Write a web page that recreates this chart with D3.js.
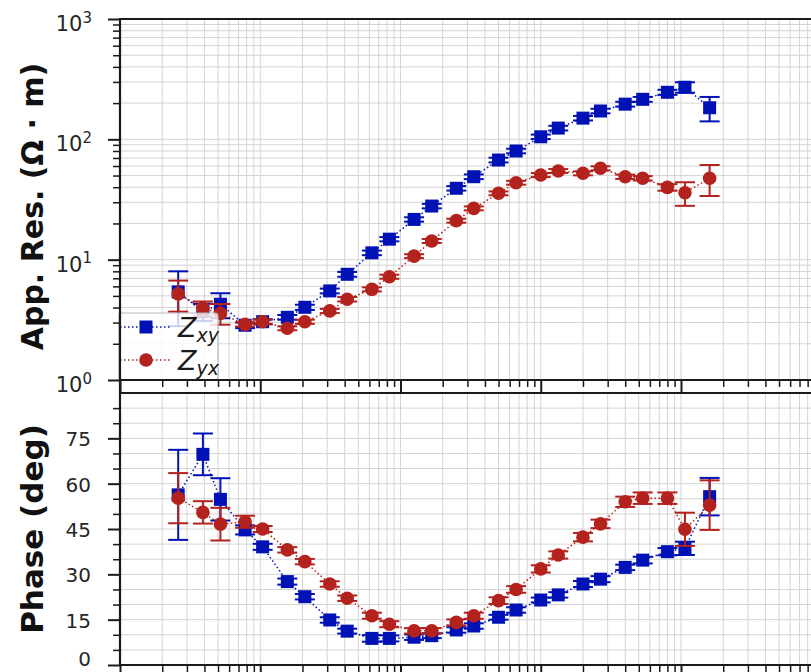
<!DOCTYPE html>
<html><head><meta charset="utf-8">
<script src="https://cdn.jsdelivr.net/npm/d3@7"></script>
<style>
body{margin:0;background:#fff;}
svg{display:block;font-family:"DejaVu Sans",sans-serif;}
</style>
</head><body>
<svg id="chart" width="811" height="672"></svg>
<script>
// ---------------- data ----------------
const periods = [0.0026, 0.0039, 0.0052, 0.0078, 0.0104, 0.0156, 0.0208, 0.0313, 0.0417, 0.0625, 0.0833, 0.125, 0.167,
                 0.25, 0.333, 0.5, 0.667, 1, 1.333, 2, 2.667, 4, 5.333, 8, 10.67, 16];
const rhoXY    = [5.4, 3.7, 4.26, 2.85, 3.05, 3.32, 4.02, 5.5, 7.56, 11.4, 14.8, 21.6, 27.9,
                  39.2, 48.9, 67.3, 80.0, 105, 124, 150, 172, 196, 215, 246, 271, 183];
const rhoXYErr = [2.6, 0.6, 1.0, 0.15, 0.15, 0.15, 0.2, 0.25, 0.35, 0.5, 0.6, 0.9, 1.2,
                  1.7, 2.2, 3.0, 3.5, 4.5, 5.5, 6.5, 7.5, 9, 10, 12, 27, 42];
const rhoYX    = [5.2, 3.94, 3.58, 2.9, 3.05, 2.69, 3.05, 3.75, 4.69, 5.67, 7.22, 10.7, 14.3,
                  21.1, 26.7, 35.6, 43.6, 50.5, 54.6, 52.2, 57.5, 48.9, 47.5, 39.9, 36.0, 47.5];
const rhoYXErr = [1.5, 0.55, 0.7, 0.12, 0.12, 0.1, 0.12, 0.15, 0.2, 0.22, 0.28, 0.4, 0.55,
                  0.8, 1.0, 1.3, 1.6, 1.9, 2.0, 2.0, 2.2, 2.0, 2.0, 2.5, 8.0, 13.7];
const phiXY    = [56.3, 69.7, 54.8, 44.7, 39.1, 27.6, 22.6, 14.9, 11.2, 8.8, 8.8, 9.2, 9.7,
                  11.6, 12.9, 15.8, 18.2, 21.5, 23.2, 26.8, 28.4, 32.3, 34.7, 37.5, 38.6, 55.7];
const phiXYErr = [14.9, 6.9, 7.0, 1.5, 1.0, 1.0, 0.9, 0.9, 0.8, 1.1, 1.0, 0.9, 0.8,
                  0.9, 0.9, 0.8, 0.9, 0.8, 0.9, 1.0, 1.0, 0.9, 1.1, 1.2, 2.2, 6.2];
const phiYX    = [55.2, 50.5, 46.6, 47.4, 45.0, 38.1, 34.2, 26.8, 22.1, 16.3, 13.5, 11.3, 11.3,
                  14.1, 16.3, 21.3, 25.0, 31.8, 36.4, 42.3, 46.7, 54.0, 55.2, 55.2, 44.9, 52.9];
const phiYXErr = [8.3, 3.7, 5.4, 2.0, 1.0, 0.9, 0.9, 0.9, 0.9, 1.0, 1.0, 0.9, 0.9,
                  1.0, 1.0, 1.1, 1.1, 1.2, 1.2, 1.4, 1.4, 1.7, 1.9, 1.9, 5.5, 8.2];
const seriesLabels = [["Z", "xy"], ["Z", "yx"]];
const resTickValues = [1, 10, 100, 1000];
const resTickExp = ["0", "1", "2", "3"];
const phaseTickValues = [0, 15, 30, 45, 60, 75];
const yLabels = ["App. Res. (Ω · m)", "Phase (deg)"];

// ---------------- styles ----------------
const BLUE = "#0012b5", RED = "#b3221d";
const GRID = "#d4d4d4", SPINE = "#1a1a1a";
const W = 811, H = 672;

const svg = d3.select("#chart");

const x = d3.scaleLog().domain([1e-3, 1e2]).range([120, 821.25]);
const yRes = d3.scaleLog().domain([1, 1000]).range([380, 19]);
const yPh = d3.scaleLinear().domain([0, 90]).range([665, 393]);

const xMajor = [1e-3, 1e-2, 1e-1, 1, 10, 100];
const xMinor = [];
[1e-3, 1e-2, 1e-1, 1, 10].forEach(d => { for (let k = 2; k <= 9; k++) xMinor.push(d * k); });
const resMinor = [];
[1, 10, 100].forEach(d => { for (let k = 2; k <= 9; k++) resMinor.push(d * k); });
const phMinor = d3.range(5, 90, 5).filter(v => v % 15 !== 0);

const panels = [
  {y: yRes, top: 19, bottom: 380, hTicks: resTickValues.concat(resMinor)},
  {y: yPh, top: 393, bottom: 665, hTicks: phaseTickValues.concat(phMinor)}
];

// grids
panels.forEach(p => {
  const g = svg.append("g");
  g.selectAll("line.v").data(xMajor.concat(xMinor)).join("line")
    .attr("x1", d => x(d)).attr("x2", d => x(d))
    .attr("y1", p.top).attr("y2", p.bottom)
    .attr("stroke", GRID).attr("stroke-width", 1);
  g.selectAll("line.h").data(p.hTicks).join("line")
    .attr("x1", 120).attr("x2", 830)
    .attr("y1", d => p.y(d)).attr("y2", d => p.y(d))
    .attr("stroke", GRID).attr("stroke-width", 1);
});

// ---------------- series ----------------
function drawSeries(yScale, vals, errs, color, shape) {
  const g = svg.append("g");
  const pts = periods.map((p, i) => ({p, v: vals[i], e: errs[i]}));
  g.append("path").datum(pts)
    .attr("d", d3.line().x(d => x(d.p)).y(d => yScale(d.v)))
    .attr("fill", "none").attr("stroke", color).attr("stroke-width", 1.5)
    .attr("stroke-dasharray", "1.5,2.5");
  const eb = g.selectAll("g.eb").data(pts).join("g");
  eb.append("line")
    .attr("x1", d => x(d.p)).attr("x2", d => x(d.p))
    .attr("y1", d => yScale(d.v + d.e)).attr("y2", d => yScale(Math.max(d.v - d.e, 1e-6)))
    .attr("stroke", color).attr("stroke-width", 2);
  [1, -1].forEach(s => {
    eb.append("line")
      .attr("x1", d => x(d.p) - 10).attr("x2", d => x(d.p) + 10)
      .attr("y1", d => yScale(d.v + s * d.e)).attr("y2", d => yScale(d.v + s * d.e))
      .attr("stroke", color).attr("stroke-width", 2);
  });
  if (shape === "square") {
    g.selectAll("rect.m").data(pts).join("rect")
      .attr("x", d => x(d.p) - 6.5).attr("y", d => yScale(d.v) - 6.5)
      .attr("width", 13).attr("height", 13).attr("fill", color);
  } else {
    g.selectAll("circle.m").data(pts).join("circle")
      .attr("cx", d => x(d.p)).attr("cy", d => yScale(d.v)).attr("r", 6.8)
      .attr("fill", color);
  }
}
drawSeries(yRes, rhoXY, rhoXYErr, BLUE, "square");
drawSeries(yRes, rhoYX, rhoYXErr, RED, "circle");
drawSeries(yPh, phiXY, phiXYErr, BLUE, "square");
drawSeries(yPh, phiYX, phiYXErr, RED, "circle");

// ---------------- legend ----------------
const lg = svg.append("g");
lg.append("rect").attr("x", 119).attr("y", 313).attr("width", 99).attr("height", 67)
  .attr("rx", 3).attr("fill", "#fff").attr("fill-opacity", 0.8)
  .attr("stroke", "#b8b8b8").attr("stroke-width", 1.2);
[[BLUE, "square", 327], [RED, "circle", 360]].forEach(([c, shape, yy], i) => {
  lg.append("line").attr("x1", 120).attr("x2", 171).attr("y1", yy).attr("y2", yy)
    .attr("stroke", c).attr("stroke-width", 1.5).attr("stroke-dasharray", "1.5,2.5");
  if (shape === "square") lg.append("rect").attr("x", 146 - 6.5).attr("y", yy - 6.5)
    .attr("width", 13).attr("height", 13).attr("fill", c);
  else lg.append("circle").attr("cx", 146).attr("cy", yy).attr("r", 6.8).attr("fill", c);
  const t = lg.append("text").attr("x", 178).attr("y", yy + 10)
    .attr("font-size", 27).attr("font-style", "italic").attr("fill", "#1a1a1a");
  t.append("tspan").text(seriesLabels[i][0]);
  t.append("tspan").attr("font-size", 19).attr("dy", 5).text(seriesLabels[i][1]);
});

// ---------------- axes ----------------
function styleAxis(g, w) {
  g.select(".domain").remove();
  g.selectAll(".tick line").attr("stroke", SPINE).attr("stroke-width", w);
  g.selectAll(".tick text").remove();
}
// y axes
svg.append("g").attr("transform", "translate(120,0)")
  .call(d3.axisLeft(yRes).tickValues(resTickValues).tickSize(12).tickFormat(""))
  .call(g => styleAxis(g, 2));
svg.append("g").attr("transform", "translate(120,0)")
  .call(d3.axisLeft(yRes).tickValues(resMinor).tickSize(7).tickFormat(""))
  .call(g => styleAxis(g, 1.5));
svg.append("g").attr("transform", "translate(120,0)")
  .call(d3.axisLeft(yPh).tickValues(phaseTickValues).tickSize(12).tickFormat(""))
  .call(g => styleAxis(g, 2));
svg.append("g").attr("transform", "translate(120,0)")
  .call(d3.axisLeft(yPh).tickValues(phMinor).tickSize(7).tickFormat(""))
  .call(g => styleAxis(g, 1.5));
// x axes
[380, 665].forEach(yy => {
  svg.append("g").attr("transform", `translate(0,${yy})`)
    .call(d3.axisBottom(x).tickValues(xMajor).tickSize(13).tickFormat(""))
    .call(g => styleAxis(g, 2));
  svg.append("g").attr("transform", `translate(0,${yy})`)
    .call(d3.axisBottom(x).tickValues(xMinor).tickSize(7).tickFormat(""))
    .call(g => styleAxis(g, 1.5));
});

// tick labels
const rl = svg.append("g").attr("font-size", 21).attr("fill", "#262626").attr("text-anchor", "end");
resTickValues.forEach((v, i) => {
  const t = rl.append("text").attr("x", 92).attr("y", yRes(v) + 12);
  t.append("tspan").text("10");
  t.append("tspan").attr("font-size", 15).attr("dy", -8.5).text(resTickExp[i]);
});
svg.append("g").attr("font-size", 20).attr("fill", "#262626").attr("text-anchor", "end")
  .selectAll("text").data(phaseTickValues).join("text")
  .attr("x", 91).attr("y", d => Math.min(yPh(d) + 8, H - 6)).text(d => d);

// spines
const sp = svg.append("g").attr("stroke", SPINE).attr("stroke-width", 2.2).attr("fill", "none");
sp.append("line").attr("x1", 120).attr("x2", 830).attr("y1", 19).attr("y2", 19);
sp.append("line").attr("x1", 120).attr("x2", 830).attr("y1", 380).attr("y2", 380);
sp.append("line").attr("x1", 120).attr("x2", 830).attr("y1", 393).attr("y2", 393);
sp.append("line").attr("x1", 120).attr("x2", 830).attr("y1", 665).attr("y2", 665);
sp.append("line").attr("x1", 120).attr("x2", 120).attr("y1", 18).attr("y2", 666);

// axis labels
svg.append("text").attr("transform", `translate(43,${(19 + 380) / 2 + 7}) rotate(-90)`)
  .attr("text-anchor", "middle").attr("font-size", 30).attr("font-weight", "bold")
  .attr("fill", "#111").text(yLabels[0]);
svg.append("text").attr("transform", `translate(43,${(393 + 665) / 2}) rotate(-90)`)
  .attr("text-anchor", "middle").attr("font-size", 31).attr("font-weight", "bold")
  .attr("fill", "#111").text(yLabels[1]);
</script>
</body></html>
